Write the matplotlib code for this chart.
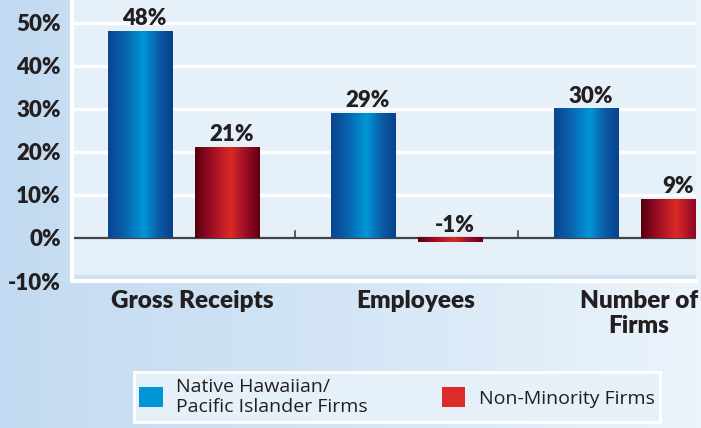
import matplotlib.pyplot as plt
import numpy as np
from matplotlib.colors import LinearSegmentedColormap
from matplotlib.patches import Patch

categories = ["Gross Receipts", "Employees", "Number of\nFirms"]
nhpi = [48, 29, 30]
non_minority = [21, -1, 9]
series_names = ["Native Hawaiian/\nPacific Islander Firms", "Non-Minority Firms"]
yticks = [-10, 0, 10, 20, 30, 40, 50]

fig = plt.figure(figsize=(7.01, 4.28), dpi=100)

# figure background gradient
bg = fig.add_axes([0, 0, 1, 1], zorder=-10)
bg_cmap = LinearSegmentedColormap.from_list("bg", ["#c2daf1", "#d4e6f6", "#ecf4fb"])
bg.imshow(np.linspace(0, 1, 256).reshape(1, -1), cmap=bg_cmap, aspect="auto",
          extent=[0, 1, 0, 1])
bg.axis("off")

ax = fig.add_axes([72 / 701, 1 - 281 / 428, 624 / 701, 281 / 428])
ax.set_facecolor("#e6f0f9")
xmin, xmax = -0.5, 2.297
ax.set_xlim(xmin, xmax)
ax.set_ylim(-10, 55.3)

x = np.arange(len(categories))
w = 0.287
off = 0.195
b1 = ax.bar(x - off, nhpi, w, color="none", zorder=3)
b2 = ax.bar(x + off, non_minority, w, color="none", zorder=3)

blue_cmap = LinearSegmentedColormap.from_list(
    "b", [(0, "#0b4590"), (0.2, "#0a5aa6"), (0.55, "#0096d6"), (0.8, "#0b58a3"), (1, "#07418c")])
red_cmap = LinearSegmentedColormap.from_list(
    "r", [(0, "#55000e"), (0.2, "#8f0a22"), (0.55, "#db2a27"), (0.8, "#9a0c25"), (1, "#5e000f")])
for bars, cm in ((b1, blue_cmap), (b2, red_cmap)):
    for b in bars:
        x0, y0 = b.get_x(), min(b.get_y(), b.get_y() + b.get_height())
        x1, y1 = x0 + b.get_width(), max(b.get_y(), b.get_y() + b.get_height())
        # cut the gradient at the right edge of the plot
        frac = min(1.0, (xmax - x0) / (x1 - x0))
        n = 256
        grad = np.linspace(0, 1, n)[: int(n * frac)].reshape(1, -1)
        ax.imshow(grad, cmap=cm, vmin=0, vmax=1, aspect="auto",
                  extent=[x0, min(x1, xmax), y0, y1], zorder=3)

ax.set_xlim(xmin, xmax)
ax.set_ylim(-10, 55.3)

for bars, vals in ((b1, nhpi), (b2, non_minority)):
    for b, v in zip(bars, vals):
        ax.text(b.get_x() + b.get_width() / 2 + 0.02, max(v, 0) + 0.5, f"{v}%",
                ha="center", va="bottom", fontsize=16, fontweight="heavy",
                color="#231f20", family="Lato", zorder=5)

ax.set_yticks(yticks)
ax.set_yticklabels([f"{t}%" for t in yticks], fontsize=16, fontweight="heavy",
                   color="#231f20", family="Lato")
ax.tick_params(axis="y", length=0, pad=8)
ax.set_xticks([])
for t in [10, 20, 30, 40, 50]:
    ax.axhline(t, color="white", lw=2.5, zorder=1)
ax.axhspan(-10, -8.6, color="#cfe2f4", zorder=1, lw=0)
ax.axhline(0, color="#444448", lw=1.6, zorder=2)
for xb in [0.5, 1.5]:
    ax.plot([xb, xb], [0, 1.6], color="#444448", lw=1.2, zorder=2)

for s in ["top", "right"]:
    ax.spines[s].set_visible(False)
for s in ["left", "bottom"]:
    ax.spines[s].set_color("white")
    ax.spines[s].set_linewidth(3)

for xi, lab in zip(x, categories):
    ax.text(xi + 0.04, -12.0, lab, ha="center", va="top", fontsize=17.5,
            fontweight="heavy", color="#231f20", family="Lato",
            linespacing=1.2, clip_on=False)

handles = [Patch(facecolor="#0095d6", edgecolor="none"),
           Patch(facecolor="#dc2c27", edgecolor="none")]
leg = fig.legend(handles, series_names, loc="center", ncol=2,
                 bbox_to_anchor=(397 / 701, 1 - 397 / 428),
                 prop={"family": "Open Sans", "size": 14},
                 frameon=True, fancybox=False, handlelength=1.2, handleheight=1.2,
                 handletextpad=0.7, columnspacing=3.8, borderpad=0.3,
                 borderaxespad=0, labelspacing=0.2)
leg.get_frame().set_facecolor("#e6f0f9")
leg.get_frame().set_edgecolor("white")
leg.get_frame().set_linewidth(2)
leg.get_frame().set_alpha(1)
for t in leg.get_texts():
    t.set_color("#231f20")
    t.set_linespacing(1.1)

fig.savefig("out.png", dpi=100)
